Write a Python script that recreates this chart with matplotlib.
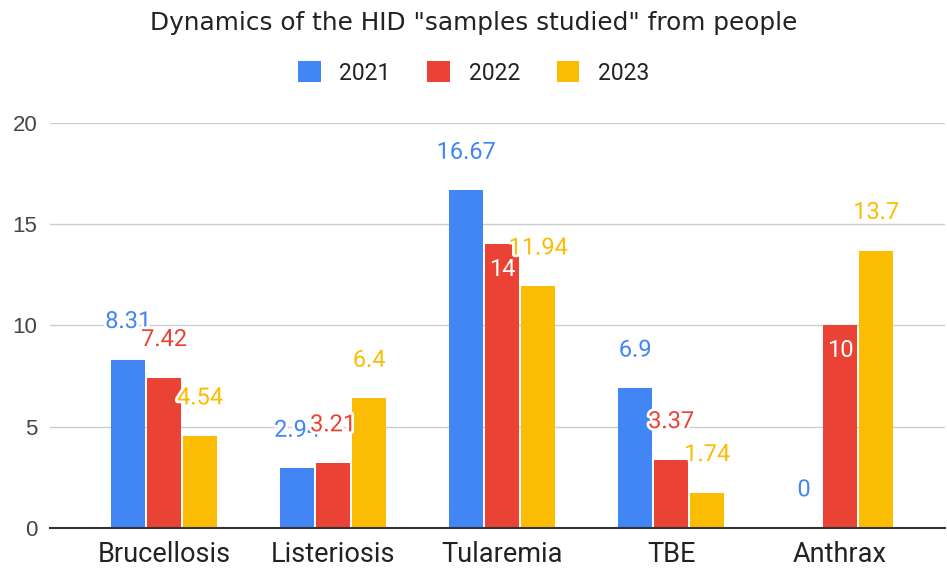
import numpy as np
import matplotlib.pyplot as plt
import matplotlib.patheffects as pe
from matplotlib.patches import Patch

# data
categories = ['Brucellosis', 'Listeriosis', 'Tularemia', 'TBE', 'Anthrax']
years = ['2021', '2022', '2023']
v2021 = [8.31, 2.94, 16.67, 6.9, 0]
v2022 = [7.42, 3.21, 14, 3.37, 10]
v2023 = [4.54, 6.4, 11.94, 1.74, 13.7]
yticks = [0, 5, 10, 15, 20]

series = [v2021, v2022, v2023]
colors = ['#4285F4', '#EA4335', '#FBBC04']
# labels drawn inside the bar (series index, category index)
inside = {(1, 2), (1, 4)}

fig = plt.figure(figsize=(9.47, 5.71), dpi=100)
ax = fig.add_axes([0.0528, 0.0753, 0.945, 0.7093])

x = np.arange(len(categories))
step = 0.213
width = 0.198

for j, vals in enumerate(series):
    xs = x + (j - 1) * step
    ax.bar(xs, vals, width=width, color=colors[j], zorder=3)

# data labels, drawn afterwards so later ones overlap earlier ones
for j, vals in enumerate(series):
    xs = x + (j - 1) * step
    for i, v in enumerate(vals):
        if (j, i) in inside:
            ax.annotate(f'{v:g}', (xs[i], v), xytext=(0, -18), textcoords='offset points',
                        ha='center', va='center', color='white', fontsize=17,
                        family='Roboto', zorder=5)
        else:
            ax.annotate(f'{v:g}', (xs[i], v), xytext=(0, 27.5), textcoords='offset points',
                        ha='center', va='center', color=colors[j], fontsize=17,
                        family='Roboto', zorder=5,
                        path_effects=[pe.withStroke(linewidth=4, foreground='white')])

ax.set_xlim(-0.675, 4.62)
ax.set_ylim(0, 20)
ax.set_yticks(yticks)
ax.set_xticks(x)
ax.set_xticklabels(categories, family='Roboto', fontsize=19.5, color='#222222')
ax.tick_params(axis='y', length=0, pad=9, labelsize=16, labelcolor='#444444')
ax.tick_params(axis='x', length=0, pad=9)
for lab in ax.get_yticklabels():
    lab.set_family('Liberation Sans')

ax.grid(axis='y', color='#cccccc', linewidth=1, zorder=0)
for s in ['top', 'right', 'left']:
    ax.spines[s].set_visible(False)
ax.spines['bottom'].set_color('#333333')
ax.spines['bottom'].set_linewidth(1.5)
ax.spines['bottom'].set_zorder(4)

fig.text(0.5, 1 - 23 / 571, 'Dynamics of the HID "samples studied" from people',
         ha='center', va='center', fontsize=17.8, family='DejaVu Sans', color='#222222')

handles = [Patch(facecolor=c, edgecolor='none') for c in colors]
fig.legend(handles, years, loc='center', bbox_to_anchor=(0.5, 1 - 73 / 571), ncol=3,
           frameon=False, prop={'family': 'Roboto', 'size': 16.5},
           handlelength=1.0, handleheight=1.0, handletextpad=0.8, columnspacing=1.6,
           labelcolor='#222222')

fig.savefig('out.png', dpi=100)
